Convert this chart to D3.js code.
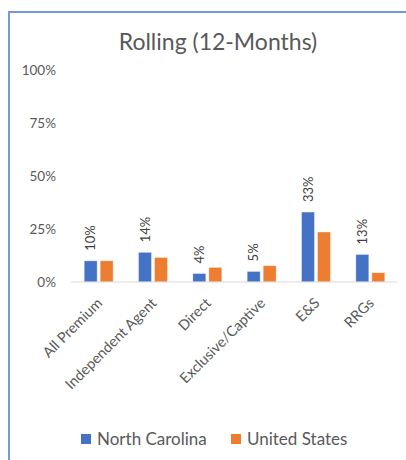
<!DOCTYPE html>
<html>
<head>
<meta charset="utf-8">
<script src="https://cdn.jsdelivr.net/npm/d3@7"></script>
<style>
  html, body { margin: 0; padding: 0; background: #fff; }
  svg { display: block; font-family: Lato, "Open Sans", sans-serif; }
</style>
</head>
<body>
<script>
// chart data
const categories = ["All Premium", "Independent Agent", "Direct", "Exclusive/Captive", "E&S", "RRGs"];
const seriesNames = ["North Carolina", "United States"];
const northCarolina = [10, 14, 4, 5, 33, 13];
const unitedStates = [10, 11.6, 6.9, 7.7, 23.6, 4.4];
const yTicks = [0, 25, 50, 75, 100];
const colors = ["#4472C4", "#ED7D31"];

const W = 406, H = 460;
const margin = {top: 70, right: 9, bottom: 178, left: 71};
const width = W - margin.left - margin.right,
      height = H - margin.top - margin.bottom;

let svg = d3.select("body").append("svg")
    .attr("width", W)
    .attr("height", H);

// frame (only left + top edge show in the picture)
svg.append("path")
    .attr("d", "M9,460 L9,12 L406,12")
    .attr("fill", "none")
    .attr("stroke", "#7198e0")
    .attr("stroke-width", 2);

svg.append("text")
    .attr("x", 218)
    .attr("y", 50)
    .attr("text-anchor", "middle")
    .attr("font-size", 23)
    .attr("fill", "#595959")
    .text("Rolling (12-Months)");

let g = svg.append("g")
    .attr("transform", "translate(" + margin.left + "," + margin.top + ")");

let x0 = d3.scaleBand().domain(categories).range([0, width]);
let yScale = d3.scaleLinear().domain([0, 100]).range([height, 0]);

// y labels (no gridlines in the original)
g.selectAll(".ytick")
  .data(yTicks)
  .join("text")
    .attr("class", "ytick")
    .attr("x", -15)
    .attr("y", d => yScale(d))
    .attr("dy", "0.35em")
    .attr("text-anchor", "end")
    .attr("font-size", 13.5)
    .attr("fill", "#595959")
    .text(d => d + "%");

const barW = 13, gap = 3;
const rows = categories.map((c, i) => ({cat: c, vals: [northCarolina[i], unitedStates[i]]}));

let groups = g.selectAll(".grp")
  .data(rows)
  .join("g")
    .attr("class", "grp")
    .attr("transform", d => "translate(" + (x0(d.cat) + x0.bandwidth() / 2) + ",0)");

groups.selectAll("rect")
  .data(d => d.vals.map((v, j) => ({v, j})))
  .join("rect")
    .attr("x", d => d.j === 0 ? -barW - gap / 2 + 0.5 : gap / 2 + 0.5)
    .attr("y", d => yScale(d.v))
    .attr("width", barW)
    .attr("height", d => height - yScale(d.v))
    .attr("fill", d => colors[d.j])
    .attr("stroke", "#fff")
    .attr("stroke-opacity", 0.5)
    .attr("stroke-width", 0.8);

// data labels on North Carolina bars
groups.append("text")
    .attr("transform", d => "translate(" + (-barW / 2 - gap / 2 + 0.5) + "," + (yScale(d.vals[0]) - 10) + ") rotate(-90)")
    .attr("dy", "0.35em")
    .attr("font-size", 13)
    .attr("fill", "#404040")
    .text(d => d.vals[0] + "%");

// x axis line
g.append("line")
    .attr("x1", 0).attr("x2", width)
    .attr("y1", height).attr("y2", height)
    .attr("stroke", "#d9d9d9")
    .attr("stroke-width", 1);

// category labels
g.selectAll(".xlab")
  .data(categories)
  .join("text")
    .attr("class", "xlab")
    .attr("transform", d => "translate(" + (x0(d) + x0.bandwidth() / 2 + 5) + "," + (height + 22) + ") rotate(-45)")
    .attr("text-anchor", "end")
    .attr("font-size", 14.5)
    .attr("fill", "#595959")
    .text(d => d);

// legend
let legend = svg.append("g").attr("transform", "translate(81,434)");
const legX = [0, 150];
seriesNames.forEach((n, i) => {
  legend.append("rect")
      .attr("x", legX[i]).attr("y", 0)
      .attr("width", 10).attr("height", 10)
      .attr("fill", colors[i]);
  legend.append("text")
      .attr("x", legX[i] + 16).attr("y", 5)
      .attr("dy", "0.35em")
      .attr("font-size", 17)
      .attr("fill", "#595959")
      .text(n);
});
</script>
</body>
</html>
